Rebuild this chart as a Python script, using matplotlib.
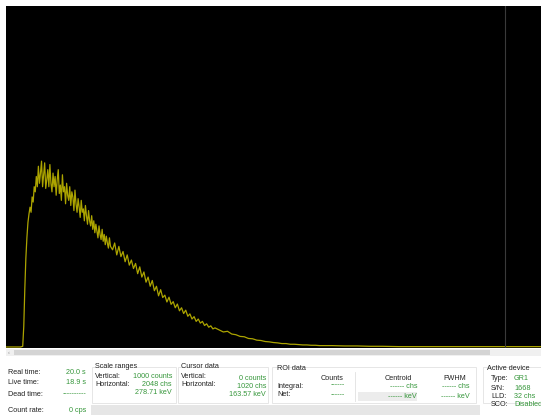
import matplotlib
matplotlib.use('Agg')
from matplotlib import pyplot as plt
from matplotlib.patches import Rectangle
import numpy as np

plt.rcParams['font.family'] = ['Liberation Sans Narrow', 'Liberation Sans', 'DejaVu Sans']

# spectrum, counts per channel, in segments of equal channel step
seg1_start, seg1_step = 64, 4   # 64 .. 400
counts1 = [2, 60, 170, 260, 320, 365, 390, 410, 395, 440, 425, 470, 455, 500, 470, 530,
           480, 510, 545, 470, 505, 540, 465, 490, 520, 470, 535, 480, 455, 510, 470, 500,
           445, 490, 520, 450, 475, 430, 505, 455, 470, 420, 480, 445, 430, 470, 415, 455,
           440, 400, 460, 420, 395, 435, 410, 380, 430, 395, 405, 370, 415, 385, 360, 400,
           370, 355, 385, 345, 370, 335, 360, 340, 320, 355, 330, 315, 345, 310, 330, 300,
           325, 305, 290, 320, 295]
seg2_start, seg2_step = 408, 8  # 408 .. 800
counts2 = [285, 305, 270, 295, 265, 280, 250, 270, 240, 255, 230, 245, 215, 235, 205, 220,
           190, 205, 178, 195, 165, 178, 150, 168, 145, 152, 132, 146, 125, 133, 115, 126,
           106, 115, 98, 108, 90, 97, 82, 89, 75, 82, 70, 75, 63, 68, 58, 62, 53, 56]
seg3_start, seg3_step = 816, 16  # 816 .. 1200
counts3 = [50, 44, 46, 38, 36, 31, 30, 25, 24, 20, 19, 16, 15, 13, 12, 10, 10, 8, 8, 7,
           6, 6, 5, 5, 4]
tail_channels = [1248, 1296, 1344, 1392, 1440, 1504, 1600, 1800, 2048]
tail_counts = [4, 3, 3, 2, 2, 1, 1, 1, 1]

channels = np.concatenate([
    [0, 56],
    seg1_start + seg1_step * np.arange(len(counts1)),
    seg2_start + seg2_step * np.arange(len(counts2)),
    seg3_start + seg3_step * np.arange(len(counts3)),
    tail_channels])
counts = np.concatenate([[0, 0], counts1, counts2, counts3, tail_counts])

cursor_line = 1910
line_color = '#aca400'
green = '#35963a'
fs = 5.2

fig = plt.figure(figsize=(5.41, 4.18), dpi=100)

# background axes in pixel units for the panel
bg = fig.add_axes([0, 0, 1, 1])
bg.set_xlim(0, 541)
bg.set_ylim(418, 0)
bg.axis('off')

# scroll bar
bg.add_patch(Rectangle((6, 349), 535, 7, facecolor='#f0f0f0', edgecolor='none'))
bg.add_patch(Rectangle((14, 350), 476, 5, facecolor='#d4d4d4', edgecolor='none'))
bg.text(8.5, 352.5, '\u2039', fontsize=4, color='#888888', ha='center', va='center')

def txt(x, y, s, col='#222222', ha='left'):
    bg.text(x, y, s, fontsize=fs, color=col, ha=ha, va='center')

# left column
txt(8, 372, 'Real time:')
txt(86, 372, '20.0 s', green, 'right')
txt(8, 383, 'Live time:')
txt(86, 383, '18.9 s', green, 'right')
txt(8, 394, 'Dead time:')
txt(86, 394, '----------', green, 'right')
txt(8, 411, 'Count rate:')
txt(86, 411, '0 cps', green, 'right')

# group boxes
for x0, x1 in [(92, 176), (178, 268), (272, 476), (483, 545)]:
    bg.add_patch(Rectangle((x0, 367), x1 - x0, 36, facecolor='none',
                           edgecolor='#e2e2e2', lw=0.6))

txt(95, 367, 'Scale ranges')
txt(95, 376, 'Vertical:')
txt(95, 384, 'Horizontal:')
txt(172, 377, '1000 counts', green, 'right')
txt(172, 385, '2048 chs', green, 'right')
txt(172, 393, '278.71 keV', green, 'right')

txt(181, 367, 'Cursor data')
txt(181, 376, 'Vertical:')
txt(181, 384, 'Horizontal:')
txt(266, 378, '0 counts', green, 'right')
txt(266, 386, '1020 chs', green, 'right')
txt(266, 394, '163.57 keV', green, 'right')

txt(277, 368, 'ROI data')
txt(332, 378, 'Counts', ha='center')
txt(277, 386, 'Integral:')
txt(277, 395, 'Net:')
txt(345, 385, '------', green, 'right')
txt(345, 395, '------', green, 'right')
bg.plot([355, 355], [372, 401], color='#e0e0e0', lw=0.6)
bg.add_patch(Rectangle((358, 392), 59, 9, facecolor='#ececec', edgecolor='none'))
txt(398, 378, 'Centroid', ha='center')
txt(417, 387, '------ chs', green, 'right')
txt(417, 396, '------ keV', green, 'right')
txt(455, 378, 'FWHM', ha='center')
txt(470, 387, '------ chs', green, 'right')
txt(470, 396, '------ keV', green, 'right')

txt(487, 368, 'Active device')
for y, lab, val in [(379, 'Type:', 'GR1'), (388, 'S/N:', '1668'),
                    (397, 'LLD:', '32 chs'), (405, 'SCO:', 'Disabled')]:
    txt(491, y, lab)
    txt(514, y, val, green)

# grey status bar
bg.add_patch(Rectangle((91, 405), 389, 10, facecolor='#e6e6e6', edgecolor='none'))

# spectrum
ax = fig.add_axes([6 / 541, (418 - 348) / 418, 535 / 541, 342 / 418])
ax.set_facecolor('black')
ax.plot(channels, counts, color=line_color, lw=0.9)
ax.axvline(cursor_line, color='#3a3a3a', lw=0.8)
ax.set_xlim(0, 2048)
ax.set_ylim(-3, 1000)
ax.set_xticks([])
ax.set_yticks([])
for s in ax.spines.values():
    s.set_visible(False)

fig.savefig('out.png', dpi=100)
